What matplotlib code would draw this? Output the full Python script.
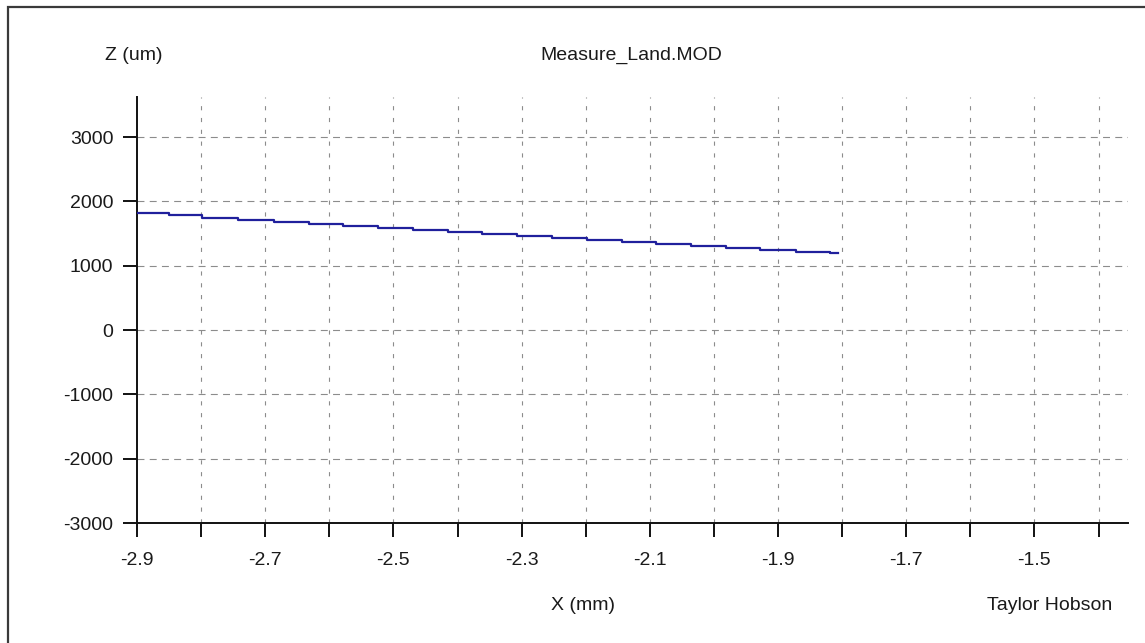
import matplotlib
matplotlib.use("Agg")
import matplotlib.pyplot as plt
from matplotlib.patches import Rectangle
import numpy as np

plt.rcParams['font.family'] = ['Liberation Sans', 'DejaVu Sans']
plt.rcParams['lines.scale_dashes'] = False

# Step profile: breakpoints (mm) and level (um) of each segment
x_breaks = [-2.900, -2.850, -2.799, -2.742, -2.687, -2.631, -2.578, -2.524,
            -2.469, -2.415, -2.362, -2.307, -2.253, -2.198, -2.144, -2.091,
            -2.035, -1.981, -1.928, -1.872, -1.819, -1.806]
z_levels = [1813, 1782, 1746, 1715, 1684, 1653, 1622, 1590, 1560, 1528,
            1497, 1466, 1435, 1404, 1373, 1342, 1311, 1280, 1248, 1217, 1193]

x_ticks = [-2.9, -2.8, -2.7, -2.6, -2.5, -2.4, -2.3, -2.2, -2.1, -2.0,
           -1.9, -1.8, -1.7, -1.6, -1.5, -1.4]
x_labels = ['-2.9', '', '-2.7', '', '-2.5', '', '-2.3', '', '-2.1', '',
            '-1.9', '', '-1.7', '', '-1.5', '']
y_ticks = [-3000, -2000, -1000, 0, 1000, 2000, 3000]

title = "Measure_Land.MOD"
ylabel = "Z (um)"
xlabel = "X (mm)"
brand = "Taylor Hobson"

W, H = 1145, 643
FS = 14
fig = plt.figure(figsize=(W / 100, H / 100), dpi=100)
fig.patch.set_facecolor('white')

# outer frame (left and top edges visible)
fig.patches.append(Rectangle((8 / W, -0.1), 1.2, (H - 7) / H + 0.1,
                             transform=fig.transFigure, fill=False,
                             edgecolor='#3a3a3a', linewidth=1.6))

ax_l, ax_r, ax_t, ax_b = 137, 1128, 97, 523
ax = fig.add_axes([ax_l / W, 1 - ax_b / H, (ax_r - ax_l) / W, (ax_b - ax_t) / H])

xs = np.array(x_breaks)
zs = np.array(z_levels + [z_levels[-1]])
ax.plot(xs, zs, drawstyle='steps-post', color='#20209c', linewidth=1.6, zorder=3)

ax.set_xlim(-2.9, -1.354)
ax.set_ylim(-3000, 3622)

ax.set_xticks(x_ticks)
ax.set_xticklabels(x_labels)
ax.set_yticks(y_ticks)
ax.set_yticklabels([str(v) for v in y_ticks])

for xv in x_ticks[1:]:
    ax.axvline(xv, color='#8c8c8c', linewidth=0.8,
               linestyle=(0, (3.0, 5.5)), zorder=1)
for yv in y_ticks[1:]:
    ax.axhline(yv, color='#8c8c8c', linewidth=0.8,
               linestyle=(0, (5.0, 3.8)), zorder=1)

for s in ['top', 'right']:
    ax.spines[s].set_visible(False)
for s in ['left', 'bottom']:
    ax.spines[s].set_linewidth(1.4)
    ax.spines[s].set_color('#111111')

ax.tick_params(axis='both', direction='out', length=10, width=1.4,
               color='#111111', labelsize=FS, labelcolor='#1a1a1a')
ax.tick_params(axis='x', pad=11)
ax.tick_params(axis='y', pad=7)

fig.text(631 / W, 1 - 55 / H, title, ha='center', va='center', fontsize=FS, color='#1a1a1a')
fig.text(134 / W, 1 - 56 / H, ylabel, ha='center', va='center', fontsize=FS, color='#1a1a1a')
fig.text(583 / W, 1 - 605 / H, xlabel, ha='center', va='center', fontsize=FS, color='#1a1a1a')
fig.text(1112 / W, 1 - 605 / H, brand, ha='right', va='center', fontsize=FS, color='#1a1a1a')

fig.savefig('out.png', dpi=100)
